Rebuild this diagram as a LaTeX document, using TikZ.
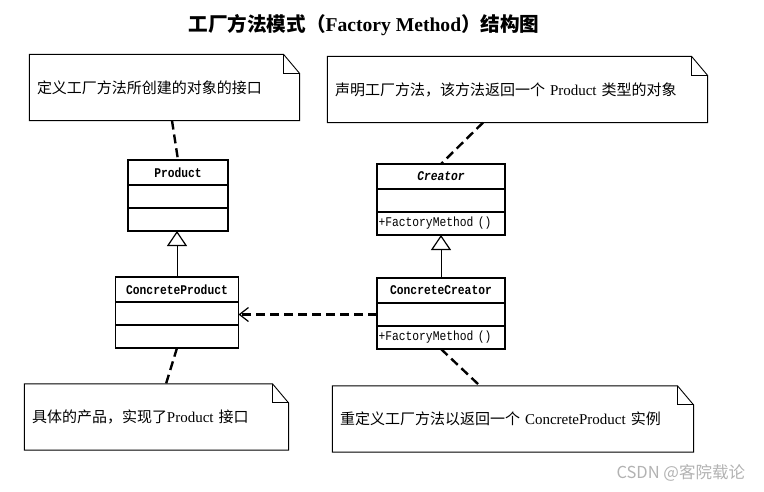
\documentclass[tikz,border=0pt]{standalone}
\usepackage{fontspec}
\setmainfont{Liberation Serif}
\newfontfamily\cjk{Noto Sans CJK SC}
\newfontfamily\umlfont{Liberation Mono}[FakeStretch=0.85]
\usetikzlibrary{arrows.meta,positioning,calc}
\tikzset{
	note/.style={text width=#1, align=left, inner xsep=7pt, inner ysep=0pt,
		minimum height=65pt, font=\fontsize{15}{18}\selectfont},
	cname/.style={draw, outer sep=0, minimum width=#1, minimum height=25pt,
		inner sep=0pt, font=\umlfont\fontsize{13.3}{15}\selectfont\bfseries},
	cpart/.style={draw, outer sep=0, minimum width=#1, minimum height=23pt, inner sep=0pt},
	cops/.style={draw, outer sep=0, text width=#1, align=left, minimum height=23pt,
		inner xsep=1.5pt, inner ysep=0pt, font=\umlfont\fontsize{13.3}{15}\selectfont},
	dep/.style={line width=2.4pt, dash pattern=on 9pt off 5pt},
	inherit/.style={line width=1pt, -{Triangle[open, length=15pt, width=20pt, line width=1.2pt]}}
}
% outline of a note with folded corner
\newcommand{\notefold}[1]{
	\draw[line width=0.9pt] (#1.north west) -- ([xshift=-16pt]#1.north east)
		-- ([yshift=-19pt]#1.north east) -- (#1.south east) -- (#1.south west) -- cycle;
	\draw[line width=0.9pt] ([xshift=-16pt]#1.north east) |- ([yshift=-19pt]#1.north east);
}

\begin{document}
\begin{tikzpicture}[x=1pt, y=-1pt, line width=1.2pt]
\useasboundingbox (0,0) rectangle (764,491);
\node[font=\fontsize{19.6}{22}\selectfont\bfseries] (title) at (364,25)
	{{\cjk 工厂方法模式（}Factory Method{\cjk ）结构图}};

% notes
\node[note=255pt] (n1) at (164.5,87.5) {\cjk 定义工厂方法所创建的对象的接口};
\node[note=365pt] (n2) at (517.5,89.5) {{\cjk 声明工厂方法，该方法返回一个} Product {\cjk 类型的对象}};
\node[note=249pt] (n3) at (156.5,417) {{\cjk 具体的产品，实现了}Product {\cjk 接口}};
\node[note=346pt] (n4) at (513,419) {{\cjk 重定义工厂方法以返回一个} ConcreteProduct {\cjk 实例}};
\notefold{n1}
\notefold{n2}
\notefold{n3}
\notefold{n4}

% classes
\node[cname=100pt] (pname) at (178,172.5) {Product};
\node[cpart=100pt, below=0pt of pname] (pattr) {};
\node[cpart=100pt, below=0pt of pattr] (pops) {};

\node[cname=123pt] (cpname) at (177,289.5) {ConcreteProduct};
\node[cpart=123pt, below=0pt of cpname] (cpattr) {};
\node[cpart=123pt, below=0pt of cpattr] (cpops) {};

\node[cname=128pt, font=\umlfont\fontsize{13.3}{15}\selectfont\bfseries\itshape] (crname) at (441,176.5) {Creator};
\node[cpart=128pt, below=0pt of crname] (crattr) {};
\node[cops=125pt, below=0pt of crattr] (crops) {+FactoryMethod ()};

\node[cname=128pt] (ccname) at (441,290.5) {ConcreteCreator};
\node[cpart=128pt, below=0pt of ccname] (ccattr) {};
\node[cops=125pt, below=0pt of ccattr] (ccops) {+FactoryMethod ()};

% links
\draw[inherit] (cpname.north) -- (cpname.north |- pops.south);
\draw[inherit] (ccname.north) -- (crops.south);
\draw[dep, -{Straight Barb[length=9pt, width=14pt, line width=1.2pt]}] (ccattr.west) -- (ccattr.west -| cpattr.east);
\draw[dep] ([xshift=7.5pt]n1.south) -- (pname.north);
\draw[dep] ([xshift=-34.5pt]n2.south) -- (crname.north);
\draw[dep] (cpops.south) -- ([xshift=9.5pt]n3.north);
\draw[dep] (ccops.south) -- ([xshift=-33pt]n4.north);

\node[font=\cjk\fontsize{16.5}{18}\selectfont, text=gray!60, anchor=east] (mark) at (749,473) {CSDN @客院载论};
\end{tikzpicture}
\end{document}
